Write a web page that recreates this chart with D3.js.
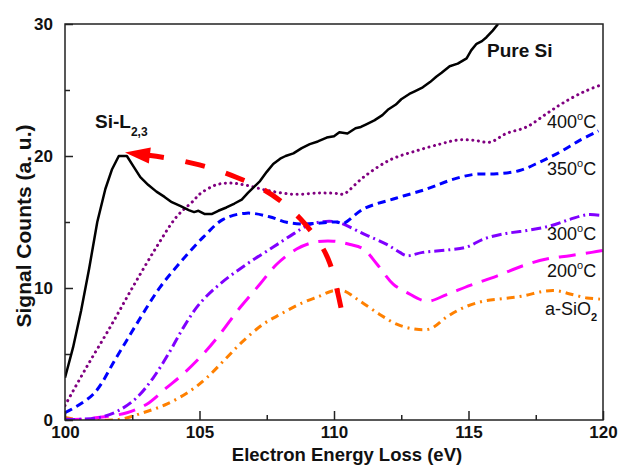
<!DOCTYPE html>
<html><head><meta charset="utf-8">
<script src="https://cdn.jsdelivr.net/npm/d3@7"></script>
<style>body{margin:0;background:#fff;} text{font-family:"Liberation Sans",Arial,sans-serif;}</style>
</head><body>
<svg id="c" width="618" height="465"></svg>
<script>
// ---- data ----
const pureSiE = [100.0,100.3,100.6,100.9,101.2,101.5,101.75,102.0,102.3,102.55,102.8,103.1,103.4,103.7,103.97,104.3,104.6,104.8,104.96,105.2,105.45,105.7,106.0,106.3,106.57,106.8,107.0,107.25,107.5,107.74,108.0,108.2,108.49,108.8,109.1,109.4,109.73,110.0,110.2,110.5,110.8,111.0,111.2,111.5,111.8,112.0,112.3,112.5,112.8,113.0,113.3,113.57,113.8,114.0,114.3,114.6,114.93,115.1,115.3,115.5,115.67,115.9,116.1];
const pureSiS = [3.2,5.5,8.3,11.5,15.0,17.5,19.0,20.0,20.0,19.2,18.4,17.8,17.3,16.9,16.5,16.2,15.9,15.75,15.85,15.6,15.6,15.85,16.1,16.4,16.7,17.2,17.6,18.1,18.8,19.4,19.8,20.0,20.2,20.6,20.9,21.1,21.4,21.5,21.8,21.7,22.1,22.2,22.4,22.7,23.1,23.5,23.9,24.3,24.7,24.9,25.2,25.6,26.0,26.3,26.8,27.0,27.4,28.0,28.5,28.7,29.0,29.5,30.0];

const t400E = [100.0,100.8,101.67,102.5,103.4,104.15,104.77,105.0,105.6,106.1,106.7,107.5,108.5,109.48,110.2,110.35,111.1,112.08,113.07,113.94,114.56,115.18,115.8,116.4,117.16,117.9,118.5,119.27,119.95];
const t400S = [1.1,4.0,7.0,10.0,13.1,15.4,16.6,17.1,17.8,17.95,17.8,17.4,17.1,17.2,17.15,17.1,18.4,19.7,20.4,20.9,21.2,21.2,21.05,21.7,22.2,23.2,24.0,24.85,25.4];

const t350E = [100.0,101.05,101.9,102.67,103.53,104.27,105.14,105.88,106.75,107.6,108.24,108.86,109.36,110.1,110.35,111.1,112.3,113.45,114.3,115.18,116.05,116.9,117.66,118.4,119.15,119.83];
const t350S = [0.55,1.95,4.7,7.3,10.05,11.9,13.85,15.2,15.67,15.4,14.98,14.85,14.9,15.0,14.9,16.0,16.8,17.5,18.15,18.6,18.65,18.9,19.55,20.3,21.2,21.9];

const t300E = [100.0,100.56,101.3,101.98,102.67,103.28,103.9,104.4,105.0,105.76,106.75,107.74,108.49,108.98,109.48,110.1,111.1,111.96,112.45,112.7,113.3,114.3,114.93,115.55,116.3,117.16,118.03,118.77,119.4,119.95];
const t300S = [0.05,0.05,0.2,0.7,1.7,3.2,5.2,7.0,8.8,10.3,11.8,13.1,14.1,14.7,15.0,15.0,14.1,13.3,12.7,12.45,12.7,12.9,13.1,13.7,14.1,14.35,14.7,15.2,15.55,15.5];

const t200E = [100.0,100.56,101.3,102.3,103.04,103.78,104.4,105.14,105.76,106.5,107.25,107.87,108.61,109.23,109.97,110.6,111.1,111.6,112.2,112.7,113.45,114.19,115.06,116.05,117.04,117.9,118.77,119.58,120.0];
const t200S = [0.05,0.05,0.2,0.55,1.2,2.45,3.5,5.0,6.5,8.5,10.3,11.8,12.95,13.45,13.55,13.3,12.95,11.8,10.3,9.67,9.0,9.5,10.2,10.9,11.7,12.2,12.45,12.7,12.85];

const sio2E = [100.0,100.4,101.05,102.04,102.9,103.78,104.65,105.27,106.0,106.63,107.37,108.0,108.74,109.48,109.97,110.35,110.97,111.7,112.33,112.95,113.57,114.19,114.8,115.55,116.3,117.04,117.78,118.27,118.77,119.4,119.95];
const sio2S = [0.2,0.05,0.0,0.05,0.55,1.2,2.2,3.2,4.7,6.0,7.26,8.0,8.8,9.4,9.8,9.8,9.0,8.0,7.26,6.9,6.9,7.8,8.5,9.0,9.2,9.4,9.75,9.8,9.55,9.25,9.15];

const arrowE = [110.26,109.85,109.48,108.74,107.99,107.25,106.39,105.58,104.76,103.9,103.1];
const arrowS = [8.5,11.85,13.36,15.26,16.63,17.6,18.37,18.98,19.44,19.82,20.05];
const arrowTip = [102.23, 20.27];

const xTicks = [100,105,110,115,120];
const xMinor = [102.5,107.5,112.5,117.5];
const yTicks = [0,10,20,30];
const yMinor = [5,15,25];

// ---- layout ----
const svg = d3.select('#c');
const m = {l:65, t:24, r:15, b:45};
const W = 618, H = 465;
const x = d3.scaleLinear().domain([100,120]).range([m.l, W-m.r]);
const y = d3.scaleLinear().domain([0,30]).range([H-m.b, m.t]);

svg.append('defs').append('clipPath').attr('id','clip')
  .append('rect').attr('x',m.l).attr('y',m.t).attr('width',W-m.l-m.r).attr('height',H-m.t-m.b);

const zip = (a,b)=>a.map((v,i)=>[v,b[i]]);
const smooth = d3.line().x(d=>x(d[0])).y(d=>y(d[1])).curve(d3.curveCatmullRom.alpha(0.5));
const lin = d3.line().x(d=>x(d[0])).y(d=>y(d[1]));

const g = svg.append('g').attr('clip-path','url(#clip)');
const series = [
  {d:zip(sio2E,sio2S), c:'#ff8000', dash:'8,5,2,5', w:3},
  {d:zip(t200E,t200S), c:'#ff00ff', dash:'17,10', w:3},
  {d:zip(t300E,t300S), c:'#8000ff', dash:'10,4,2,4', w:3},
  {d:zip(t350E,t350S), c:'#0000ff', dash:'8,5', w:3},
  {d:zip(t400E,t400S), c:'#800080', dash:'0.1,5.5', w:3, cap:'round'},
];
series.forEach(s=>{
  g.append('path').attr('d',smooth(s.d)).attr('fill','none').attr('stroke',s.c)
    .attr('stroke-width',s.w).attr('stroke-dasharray',s.dash)
    .attr('stroke-linecap',s.cap||'butt');
});
g.append('path').attr('d',lin(zip(pureSiE,pureSiS))).attr('fill','none')
  .attr('stroke','#000').attr('stroke-width',2.5).attr('stroke-linejoin','round');

// red dashed arrow
const ap = zip(arrowE,arrowS);
svg.append('path').attr('d',smooth(ap)).attr('fill','none').attr('stroke','#ff0000')
  .attr('stroke-width',5).attr('stroke-dasharray','20,22');
const tx = x(arrowTip[0]), ty = y(arrowTip[1]);
const bx0 = x(arrowE[arrowE.length-1]), by0 = y(arrowS[arrowS.length-1]);
let dx = bx0-tx, dy = by0-ty; const L = Math.hypot(dx,dy); dx/=L; dy/=L;
const hl = 25, hw = 8;
const bx = tx+dx*hl, by = ty+dy*hl;
svg.append('path').attr('fill','#ff0000')
  .attr('d',`M${tx},${ty}L${bx - dy*hw},${by + dx*hw}L${bx + dy*hw},${by - dx*hw}Z`);
svg.append('line').attr('x1',bx).attr('y1',by).attr('x2',bx0).attr('y2',by0)
  .attr('stroke','#ff0000').attr('stroke-width',5);

// frame
svg.append('rect').attr('x',m.l).attr('y',m.t).attr('width',W-m.l-m.r).attr('height',H-m.t-m.b)
  .attr('fill','none').attr('stroke','#222').attr('stroke-width',1.5);

// axes (ticks pointing inward)
const xAx = svg.append('g').attr('transform',`translate(0,${H-m.b})`)
  .call(d3.axisBottom(x).tickValues(xTicks).tickSize(-9).tickFormat(d3.format('d')));
const xAxm = svg.append('g').attr('transform',`translate(0,${H-m.b})`)
  .call(d3.axisBottom(x).tickValues(xMinor).tickSize(-5).tickFormat(''));
const yAx = svg.append('g').attr('transform',`translate(${m.l},0)`)
  .call(d3.axisLeft(y).tickValues(yTicks).tickSize(-8).tickFormat(d3.format('d')));
const yAxm = svg.append('g').attr('transform',`translate(${m.l},0)`)
  .call(d3.axisLeft(y).tickValues(yMinor).tickSize(-5).tickFormat(''));
[xAx,xAxm,yAx,yAxm].forEach(a=>{
  a.select('.domain').remove();
  a.selectAll('line').attr('stroke','#222').attr('stroke-width',1.5);
  a.selectAll('text').attr('font-family','"Liberation Sans",Arial,sans-serif')
    .attr('font-size',17).attr('font-weight','bold').attr('fill','#111');
});
xAx.selectAll('text').attr('y',6).attr('dy','0.71em');
yAx.selectAll('text').attr('x',-12).attr('dy','0.35em');

// axis titles
svg.append('text').attr('x',347).attr('y',460.5).attr('text-anchor','middle')
  .attr('font-size',18.5).attr('font-weight','bold').attr('fill','#111').text('Electron Energy Loss (eV)');
svg.append('text').attr('transform','translate(31,226) rotate(-90)').attr('text-anchor','middle')
  .attr('font-size',21).attr('font-weight','bold').attr('fill','#111').text('Signal Counts (a. u.)');

// labels
svg.append('text').attr('x',487).attr('y',57).attr('font-size',19).attr('font-weight','bold')
  .attr('fill','#111').text('Pure Si');
const si = svg.append('text').attr('x',95).attr('y',128).attr('font-size',19).attr('font-weight','bold').attr('fill','#111');
si.append('tspan').text('Si-L');
si.append('tspan').attr('font-size',12).attr('dy',8).text('2,3');

const temps = [['400',128],['350',175],['300',240],['200',277]];
temps.forEach(([t,yy])=>{
  const tt = svg.append('text').attr('x',547).attr('y',yy).attr('font-size',18).attr('fill','#111');
  tt.append('tspan').text(t);
  tt.append('tspan').attr('font-size',11).attr('dy',-8).text('o');
  tt.append('tspan').attr('dy',8).text('C');
});
const so = svg.append('text').attr('x',545).attr('y',315).attr('font-size',18).attr('fill','#111');
so.append('tspan').text('a-SiO');
so.append('tspan').attr('font-size',11).attr('font-weight','bold').attr('dy',6).text('2');
</script>
</body></html>
